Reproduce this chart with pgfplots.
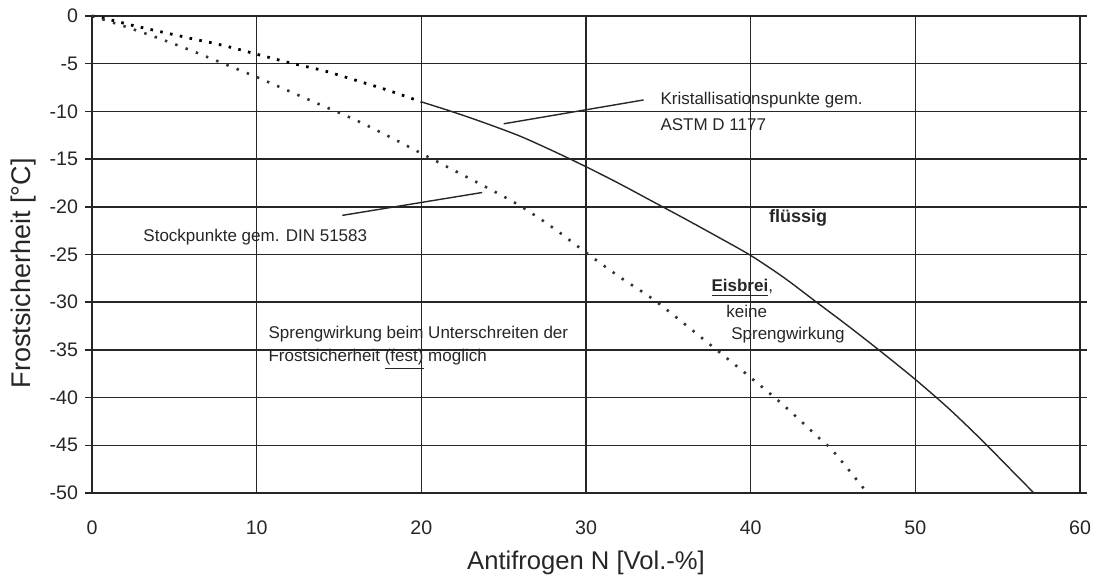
\documentclass[border=0pt]{standalone}
\usepackage{fontspec}
\setmainfont{Liberation Sans}
\usepackage{pgfplots}
\pgfplotsset{compat=1.18}
\usetikzlibrary{calc}

\begin{document}
\begin{tikzpicture}
\begin{axis}[
    name=ax,
    scale only axis,
    width=494pt,
    height=238.5pt,
    xmin=0, xmax=60,
    ymin=-50, ymax=0,
    xtick={0,10,...,60},
    ytick={-50,-45,...,0},
    grid=major,
    grid style={black!85, line width=0.8pt},
    axis line style={black!85, line width=0.8pt},
    tick align=outside,
    major tick length=3.5pt,
    xtick style={draw=none},
    ytick style={black!85, line width=0.8pt},
    /pgf/number format/assume math mode=true,
    ticklabel style={font=\fontsize{9.8}{11}\selectfont, text=black!85},
    xticklabel style={yshift=-7pt},
    xlabel={Antifrogen N [Vol.-\%]},
    ylabel={Frostsicherheit [°C]},
    xlabel style={at={(axis description cs:0.5,-0.1468)}, anchor=center,
                  font=\fontsize{12.8}{14}\selectfont, text=black!85},
    ylabel style={at={(axis description cs:-0.0698,0.461)}, anchor=center,
                  font=\fontsize{13.5}{15}\selectfont, text=black!85},
    clip=false,
]
% Kristallisationspunkte (ASTM D 1177), dotted part
\addplot[black, line width=1.4pt, dash pattern=on 1.3pt off 3.7pt, smooth, tension=0.5] coordinates {
    (0,0)(1,-0.35)(2.5,-1.0)(4.3,-1.7)(6,-2.35)(8,-3.1)(10,-4.0)(12,-4.9)
    (14,-5.7)(15,-6.2)(16.7,-7.1)(18,-7.8)(20,-9.0)
};
% Kristallisationspunkte, solid part
\addplot[black!85, line width=0.7pt, smooth, tension=0.5] coordinates {
    (20,-9.0)(22,-10.1)(24,-11.3)(26,-12.6)(28,-14.15)(30,-15.8)(32,-17.55)
    (34,-19.4)(36,-21.25)(38,-23.15)(40,-25.1)(42,-27.4)(44,-30)
    (46,-32.6)(48,-35.3)(50,-38.1)(52,-41.1)(54,-44.4)(56,-47.9)(57.2,-50)
};
% Stockpunkte (DIN 51583)
\addplot[black!80, line width=1.3pt, dash pattern=on 1.2pt off 4.3pt, smooth, tension=0.5] coordinates {
    (0,0)(2,-1.1)(4,-2.3)(6,-3.6)(8,-5.0)(10,-6.4)(12,-7.9)(14,-9.4)
    (16,-10.9)(18,-12.6)(20,-14.4)(22,-16.2)(24,-18.0)(26,-19.9)(28,-22.2)
    (30,-24.8)(32,-27.3)(34,-29.6)(36,-32.3)(38,-35.1)(40,-37.9)(42,-40.8)
    (44,-44)(45,-45.6)(46.9,-49.6)
};

% leader lines
\draw[black!85, line width=0.7pt] (33.5,-8.8) -- (25.0,-11.3);
\draw[black!85, line width=0.7pt] (15.2,-20.9) -- (23.7,-18.5);

% annotations
\begin{scope}[every node/.style={anchor=west, inner sep=0pt, text=black!85,
                                 font=\fontsize{8.5}{10}\selectfont}]
\node at (34.5,-8.8) {Kristallisationspunkte gem.};
\node at (34.5,-11.4) {ASTM D 1177};
\node at (3.1,-23.2) {Stockpunkte gem. DIN 51583};
\node at (10.7,-33.3) {Sprengwirkung beim Unterschreiten der};
\node at (10.7,-36.0) {Frostsicherheit \underline{(fest)} möglich};
\node[font=\fontsize{9}{10}\selectfont\bfseries] at (41.1,-21.2) {flüssig};
\node at (37.6,-28.5) {\underline{\textbf{Eisbrei}},};
\node at (38.5,-31.0) {keine};
\node at (38.8,-33.4) {Sprengwirkung};
\end{scope}
\end{axis}
\pgfresetboundingbox
\path ($(ax.south west)+(-46pt,-44pt)$) rectangle ($(ax.north east)+(8pt,8pt)$);
\end{tikzpicture}
\end{document}
